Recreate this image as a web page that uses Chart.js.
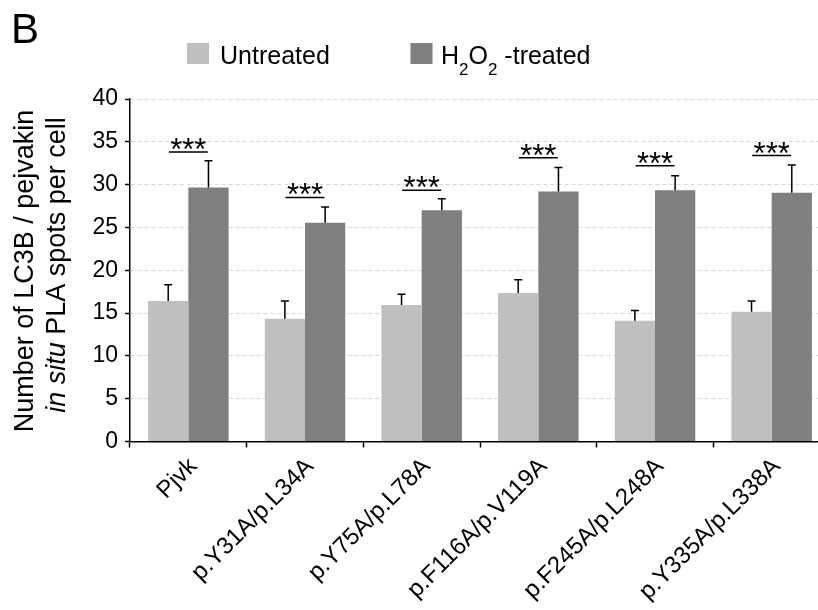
<!DOCTYPE html>
<html>
<head>
<meta charset="utf-8">
<script src="https://cdn.jsdelivr.net/npm/chart.js@4.4.1/dist/chart.umd.min.js"></script>
<style>
  html, body { margin: 0; padding: 0; background: #fff; overflow: hidden; }
  #wrap { width: 818px; height: 610px; overflow: hidden; position: relative; }
  canvas { position: absolute; left: 0; top: 0; }
</style>
</head>
<body>
<div id="wrap"><canvas id="barChart" width="830" height="610"></canvas></div>
<script>
// data
const categories = ['Pjvk', 'p.Y31A/p.L34A', 'p.Y75A/p.L78A', 'p.F116A/p.V119A', 'p.F245A/p.L248A', 'p.Y335A/p.L338A'];
const seriesNames = ['Untreated', 'H2O2 -treated'];
const untreated = [16.4, 14.35, 15.95, 17.35, 14.1, 15.15];
const untreatedSd = [1.9, 2.05, 1.25, 1.55, 1.2, 1.25];
const treated = [29.65, 25.55, 27.0, 29.2, 29.35, 29.05];
const treatedSd = [3.15, 1.85, 1.35, 2.8, 1.7, 3.25];
const sigLevel = [33.8, 28.5, 29.35, 33.15, 32.2, 33.4];
const sigMark = '***';
const yMin = 0, yMax = 40, yStep = 5;
const yTitle = ['Number of LC3B / pejvakin', ['in situ', ' PLA spots per cell']];
const panelLetter = 'B';

const FONT = "'Liberation Sans', Arial, sans-serif";
const colors = ['#bfbfbf', '#7f7f7f'];

// error bars, significance bars, legend, y title, panel letter
const extras = {
    id: 'extras',
    afterDatasetsDraw(chart) {
        const ctx = chart.ctx;
        const y = chart.scales.y;
        const x = chart.scales.x;
        const sds = [untreatedSd, treatedSd];
        ctx.save();
        ctx.strokeStyle = '#000';
        ctx.lineWidth = 1.5;
        chart.data.datasets.forEach((ds, i) => {
            chart.getDatasetMeta(i).data.forEach((bar, j) => {
                const top = y.getPixelForValue(ds.data[j] + sds[i][j]);
                ctx.beginPath();
                ctx.moveTo(bar.x, bar.y);
                ctx.lineTo(bar.x, top);
                ctx.moveTo(bar.x - 4, top);
                ctx.lineTo(bar.x + 4, top);
                ctx.stroke();
            });
        });
        // significance
        ctx.fillStyle = '#000';
        ctx.font = '31px ' + FONT;
        ctx.textAlign = 'center';
        ctx.textBaseline = 'alphabetic';
        sigLevel.forEach((v, j) => {
            const cx = x.getPixelForValue(j);
            const ly = y.getPixelForValue(v);
            ctx.beginPath();
            ctx.moveTo(cx - 19.5, ly);
            ctx.lineTo(cx + 19.5, ly);
            ctx.stroke();
            ctx.fillText(sigMark, cx, ly + 8);
        });
        ctx.restore();
    },
    afterDraw(chart) {
        const ctx = chart.ctx;
        ctx.save();
        ctx.fillStyle = '#000';
        ctx.textBaseline = 'alphabetic';
        ctx.textAlign = 'left';

        // panel letter
        ctx.font = '42px ' + FONT;
        ctx.fillText(panelLetter, 11, 43);

        // legend
        const boxX = [187, 410.5];
        const textX = [220, 441];
        seriesNames.forEach((name, i) => {
            ctx.fillStyle = colors[i];
            ctx.fillRect(boxX[i], 43, 22, 21);
            ctx.fillStyle = '#000';
            let cx = textX[i];
            // digits right after H or O become subscripts
            for (let k = 0; k < name.length; k++) {
                const ch = name[k];
                const sub = ch === '2' && k > 0 && /[HO]/.test(name[k - 1]);
                ctx.font = (sub ? '17px ' : '25px ') + FONT;
                ctx.fillText(ch, cx, sub ? 75 : 63.5);
                cx += ctx.measureText(ch).width;
            }
        });

        // y axis title
        ctx.save();
        ctx.translate(33, 271);
        ctx.rotate(-Math.PI / 2);
        ctx.font = '27px ' + FONT;
        ctx.textAlign = 'center';
        ctx.fillText(yTitle[0], 0, 0);
        ctx.restore();

        ctx.save();
        ctx.translate(65, 265);
        ctx.rotate(-Math.PI / 2);
        ctx.textAlign = 'left';
        const fItal = 'italic 27px ' + FONT;
        const fNorm = '27px ' + FONT;
        ctx.font = fItal;
        const w1 = ctx.measureText(yTitle[1][0]).width;
        ctx.font = fNorm;
        const w2 = ctx.measureText(yTitle[1][1]).width;
        const start = -(w1 + w2) / 2;
        ctx.font = fItal;
        ctx.fillText(yTitle[1][0], start, 0);
        ctx.font = fNorm;
        ctx.fillText(yTitle[1][1], start + w1, 0);
        ctx.restore();

        ctx.restore();
    }
};

const ctxBar = document.getElementById('barChart').getContext('2d');
const barChart = new Chart(ctxBar, {
    type: 'bar',
    data: {
        labels: categories,
        datasets: [{
            label: seriesNames[0],
            data: untreated,
            backgroundColor: colors[0],
            borderWidth: 0
        }, {
            label: seriesNames[1],
            data: treated,
            backgroundColor: colors[1],
            borderWidth: 0
        }]
    },
    options: {
        responsive: false,
        animation: false,
        devicePixelRatio: 1,
        categoryPercentage: 0.69,
        barPercentage: 1.0,
        layout: {
            padding: { top: 99, left: 0, right: 0, bottom: 0 }
        },
        plugins: {
            legend: { display: false },
            tooltip: { enabled: false }
        },
        scales: {
            x: {
                afterFit(scale) { scale.height = 168.5; },
                grid: {
                    drawOnChartArea: false,
                    tickLength: 6,
                    tickColor: '#000',
                    tickWidth: 1.5
                },
                border: { color: '#000', width: 1.5 },
                ticks: {
                    color: '#000',
                    font: { family: FONT, size: 24 },
                    minRotation: 45,
                    maxRotation: 45,
                    padding: 5,
                    labelOffset: 5
                }
            },
            y: {
                min: yMin,
                max: yMax,
                afterFit(scale) { scale.width = 130; },
                grid: {
                    color: '#d9d9d9',
                    lineWidth: 1,
                    tickLength: 5,
                    tickColor: '#000',
                    tickWidth: 1.5,
                    tickBorderDash: []
                },
                border: { color: '#000', width: 1.5, dash: [4, 3] },
                ticks: {
                    stepSize: yStep,
                    color: '#000',
                    font: { family: FONT, size: 23 },
                    padding: 7
                }
            }
        }
    },
    plugins: [extras]
});
</script>
</body>
</html>
